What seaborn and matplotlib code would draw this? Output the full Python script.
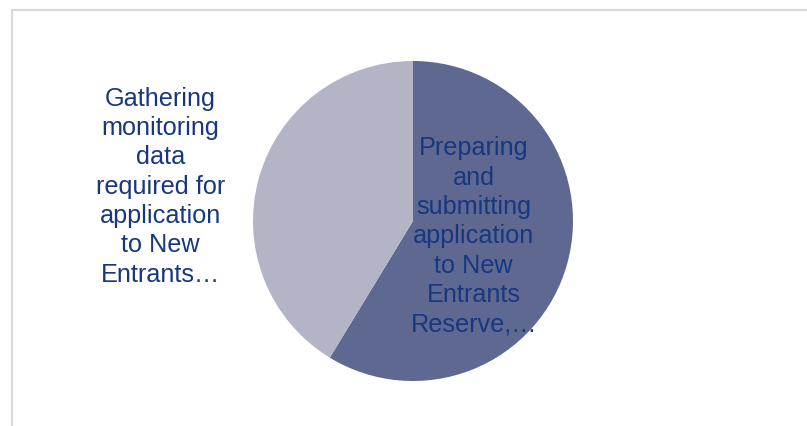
import matplotlib
matplotlib.use("Agg")
import matplotlib.pyplot as plt
import seaborn as sns
from matplotlib.patches import Rectangle

# data
labels = [
    "Preparing\nand\nsubmitting\napplication\nto New\nEntrants\nReserve,…",
    "Gathering\nmonitoring\ndata\nrequired for\napplication\nto New\nEntrants…",
]
shares = [58.7, 41.3]
colors = ["#5e6890", "#b3b4c6"]
label_pos = [(0.38, -0.09), (-1.58, 0.22)]

sns.set_theme(style="white")
plt.rcParams["font.family"] = ["Liberation Sans", "DejaVu Sans"]

fig = plt.figure(figsize=(8.07, 4.27), dpi=100)

# chart frame (cut at right/bottom like the original)
fig.add_artist(Rectangle((11.5 / 807, -0.1), 1.2, 1 - 10.5 / 427 + 0.1,
                         transform=fig.transFigure, fill=False,
                         edgecolor="#d9d9d9", linewidth=1.5))

ax = fig.add_axes([253 / 807, 45 / 427, 320 / 807, 320 / 427])
ax.pie(shares, colors=colors, startangle=90, counterclock=False,
       radius=1, wedgeprops=dict(linewidth=0))
ax.set_xlim(-1, 1)
ax.set_ylim(-1, 1)
ax.set_aspect("equal")
ax.axis("off")

for lab, (x, y) in zip(labels, label_pos):
    ax.text(x, y, lab, ha="center", va="center", fontsize=18.2,
            color="#17377f", linespacing=1.28, clip_on=False)

fig.savefig("out.png", dpi=100)
